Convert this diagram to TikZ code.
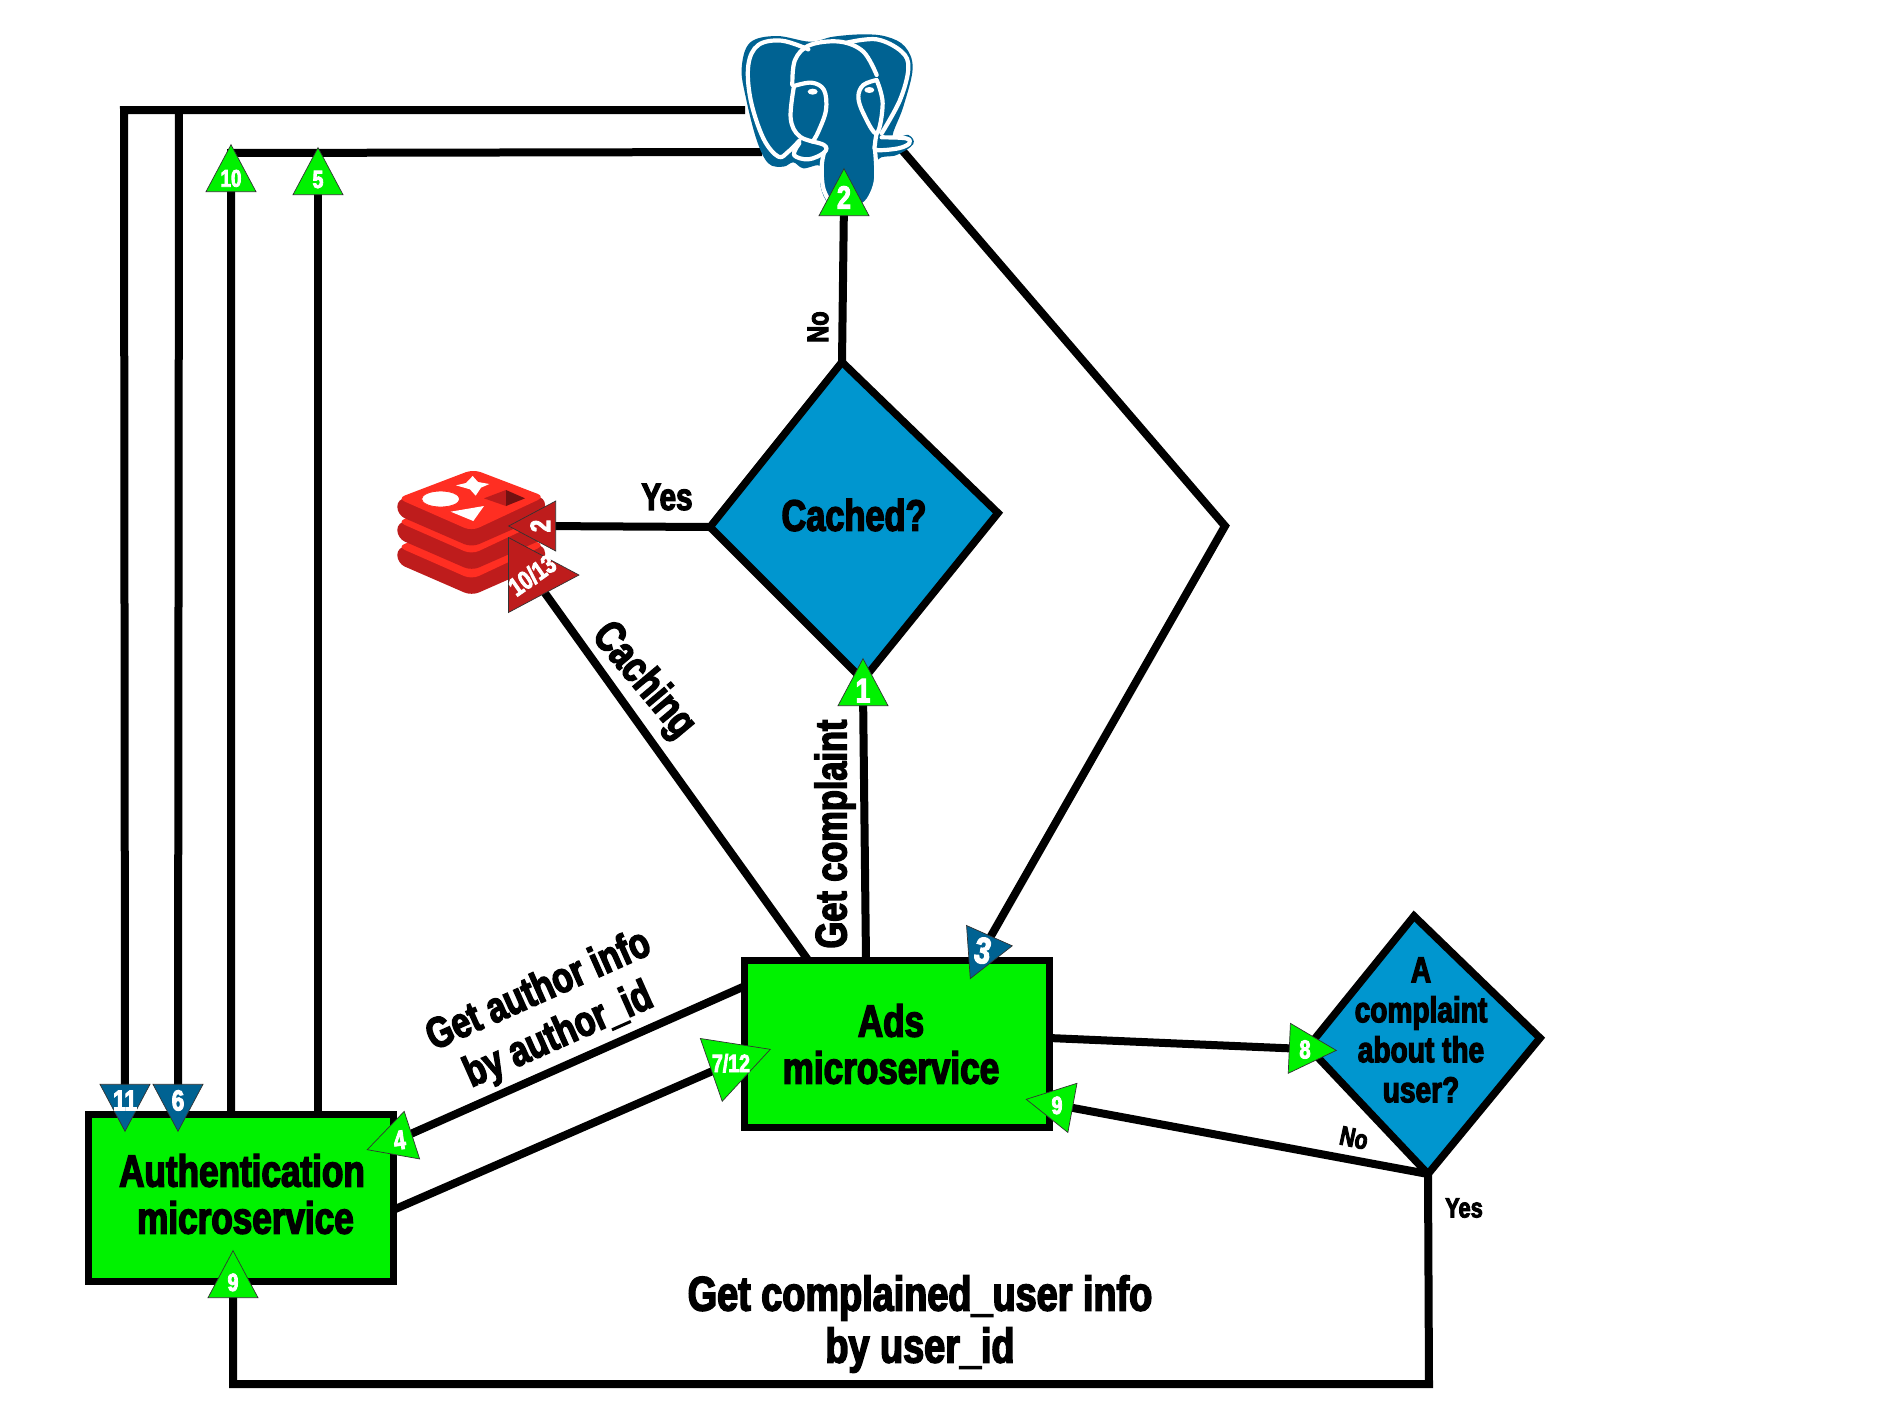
\documentclass[tikz,border=0pt]{standalone}
\usepackage{fontspec}
\usetikzlibrary{shapes.geometric}
\newfontfamily\imp[UprightFont=* Bold,FakeStretch=0.78,FakeBold=3.2]{Liberation Sans}
\definecolor{gbox}{RGB}{0,242,0}
\definecolor{dblue}{RGB}{0,150,207}
\definecolor{mblue}{RGB}{0,98,146}
\definecolor{rdark}{RGB}{190,28,28}
\definecolor{rlight}{RGB}{255,46,34}
\pgfdeclarelayer{background}
\pgfsetlayers{background,main}
\tikzset{
  conn/.style={draw=black,line width=8pt,line join=miter},
  flowbox/.style={draw=black,fill=gbox,line width=7.5pt,rectangle,outer sep=0pt,inner sep=0pt},
  decision/.style={draw=black,fill=dblue,line width=7.5pt,line join=miter},
  lbl/.style={text=black,align=center,inner sep=0pt},
  markshape/.style={draw=black!80,line width=.7pt,line join=miter},
  marktext/.style={inner sep=0pt,outer sep=0pt,text=white},
  elewhite/.style={draw=white,line width=4.2pt,line cap=round,line join=round}
}
% name, x, y (centroid), apex angle, text angle, colour, size, text, scale
\newcommand{\mk}[9]{%
  \path[markshape,fill=#6,shift={(#2,#3)},rotate=#4,scale=#9] (0,-31.3) -- (25,15.7) -- (-25,15.7) -- cycle;
  \node[marktext,rotate=#5,font=\imp\fontsize{#7}{#7}\selectfont] (#1) at (#2,#3)
    {\smash{\makebox[0pt]{\raisebox{-.36em}{#8}}}};}
\newcommand{\tsize}[2]{\imp\fontsize{#1}{#2}\selectfont}
\begin{document}
\begin{tikzpicture}[x=1pt,y=-1pt]
\useasboundingbox (0,0) rectangle (1890,1417);

% PostgreSQL elephant
\begin{scope}[shift={(700,0)},scale=1/3]
\fill[mblue] plot[smooth cycle,tension=.6] coordinates {
 (330,125) (230,108) (150,128) (125,205) (138,295) (170,420) (205,490) (250,500) (280,487) (310,505) (362,498)
 (362,560) (385,610) (430,625) (490,612) (525,560) (532,480) (590,465) (640,432) (625,405) (578,410) (610,320) (638,205) (615,140) (560,110) (490,103) (400,110)};
\draw[elewhite] plot[smooth,tension=.6] coordinates {(325,148) (245,122) (175,135) (145,195) (152,300) (190,415) (235,470) (265,455) (298,422)};
\draw[elewhite] plot[smooth,tension=.6] coordinates {(277,255) (285,180) (330,135) (420,125) (490,155) (530,225)};
\draw[elewhite] plot[smooth,tension=.6] coordinates {(440,128) (530,118) (605,155) (625,205) (600,300) (545,400)};
\draw[elewhite] plot[smooth,tension=.6] coordinates {(282,258) (335,248) (372,270) (378,330) (355,395) (338,425)};
\draw[elewhite] plot[smooth,tension=.6] coordinates {(282,258) (272,355) (300,410) (372,435) (372,458) (325,478) (282,465) (298,430)};
\draw[elewhite] plot[smooth,tension=.6] coordinates {(530,240) (490,255) (475,290) (490,340) (530,400) (548,310) (530,240)};
\draw[elewhite] plot[smooth,tension=.6] coordinates {(530,400) (525,432) (530,450) (595,445) (628,430) (618,415) (545,412)};
\draw[elewhite] plot[smooth,tension=.6] coordinates {(372,458) (365,500) (370,565) (392,610)};
\draw[elewhite] plot[smooth,tension=.6] coordinates {(525,450) (528,540) (505,600) (475,622)};
\fill[white] (338,275) ellipse (15 and 9);
\fill[white] (508,270) ellipse (15 and 9);
\end{scope}

% Redis logo
\begin{scope}[shift={(380,450)},scale=1/3]
\foreach \d in {145,70,0}{
 \fill[rdark,rounded corners=8pt] (52,145+\d) -- (52,195+\d) -- (275,292+\d) -- (495,195+\d) -- (495,140+\d) -- cycle;
 \fill[rlight,rounded corners=8pt] (52,145+\d) -- (280,58+\d) -- (495,140+\d) -- (275,243+\d) -- cycle;
}
\filldraw[fill=white,draw=rlight,line width=.8pt] (182,147) ellipse (57 and 24);
\fill[white] (278,78) -- (294,96) -- (328,102) -- (303,113) -- (287,137) -- (270,118) -- (228,106) -- (258,99) -- cycle;
\fill[white] (212,185) -- (312,168) -- (280,213) -- cycle;
\fill[rdark] (312,145) -- (378,120) -- (378,168) -- cycle;
\fill[rdark!60!black] (378,120) -- (435,145) -- (378,168) -- cycle;
\end{scope}

% Free end points and bends
\coordinate (pgA) at (745,110);
\coordinate (pgB) at (762,152);
\coordinate (pgC) at (902,150);
\coordinate (loopOut) at (124,110);
\coordinate (loopIn) at (179,110);
\coordinate (innerA) at (231,153);
\coordinate (bend) at (1225,526);
\coordinate (yesCorner) at (1429,1384);
\coordinate (authCorner) at (233,1384);
\coordinate (cachEnd) at (808,960);
\coordinate (getEnd) at (866,960);
\coordinate (authOut) at (745,986);
\coordinate (authIn) at (393,1210);
\coordinate (adsOut) at (1049,1038);

% Decisions
\coordinate (cT) at (842,362);
\coordinate (cR) at (998,513);
\coordinate (cB) at (863,680);
\coordinate (cL) at (710,527);
\path[decision] (cT) -- (cR) -- (cB) -- (cL) -- cycle;
\node[lbl,font=\tsize{44}{49}] (cachedT) at (854,515) {Cached?};

\coordinate (dT) at (1414,916);
\coordinate (dR) at (1540,1038);
\coordinate (dB) at (1428,1174);
\coordinate (dL) at (1308,1047);
\path[decision] (dT) -- (dR) -- (dB) -- (dL) -- cycle;
\node[lbl,font=\tsize{36}{40}] (complT) at (1421,1030) {A\\complaint\\about the\\user?};

% Boxes
\node[flowbox,minimum width=305pt,minimum height=167pt] (auth) at (241,1198) {};
\node[lbl,font=\tsize{45}{47}] (authT) at (242,1194) {Authentication\\\hspace{7pt}microservice};
\node[flowbox,minimum width=305pt,minimum height=167pt] (ads) at (897,1044) {};
\node[lbl,font=\tsize{45}{47}] (adsT) at (891,1044) {Ads\\microservice};

% Markers
\mk{mTwoPg}{844}{200}{0}{0}{gbox}{32}{\raisebox{3pt}{2}}{1}
\mk{mTen}{231}{176}{0}{0}{gbox}{24}{\raisebox{-2pt}{10}}{1}
\mk{mFive}{318}{179}{0}{0}{gbox}{25}{5}{1}
\mk{mOne}{863}{690}{0}{0}{gbox}{34}{1}{1}
\mk{mEleven}{125}{1100}{180}{0}{mblue}{29}{11}{1}
\mk{mSix}{178}{1100}{180}{0}{mblue}{29}{6}{1}
\mk{mNineAuth}{233}{1282}{0}{0}{gbox}{25}{9}{1}
\mk{mFour}{397}{1140}{108}{8}{gbox}{27}{\hspace{5pt}4}{1}
\mk{mThree}{983}{950}{156}{-10}{mblue}{37}{3}{1}
\mk{mSeven}{731}{1063}{-70.8}{0}{gbox}{25}{7/12}{1.33}
\mk{mNineAds}{1057}{1105}{79.5}{0}{gbox}{25}{9}{1}
\mk{mEight}{1305}{1049}{-92.5}{0}{gbox}{26}{8}{1}
\mk{mTwoRed}{540}{526}{90}{90}{rdark}{28}{2}{1}
\mk{mTenRed}{532}{575}{-90}{35}{rdark}{26}{10/13}{1.5}

% Connectors
\begin{pgfonlayer}{background}
\fill[white] (0,0) rectangle (1890,1417);
\draw[conn] (pgA) -- (loopOut) -- (mEleven.center);
\draw[conn] (loopIn) -- (mSix.center);
\draw[conn] (auth.north -| mTen.center) -- (mTen.center) -- (innerA) -- (pgB);
\draw[conn] (auth.north -| mFive.center) -- (mFive.center);
\draw[conn] (pgC) -- (bend) -- (mThree.center);
\draw[conn] (cT) -- (mTwoPg.center);
\draw[conn] (cL) -- (mTwoRed.center);
\draw[conn] (mTenRed.center) -- (cachEnd);
\draw[conn] (cB) -- (mOne.center) -- (getEnd);
\draw[conn] (mFour.center) -- (authOut);
\draw[conn] (authIn) -- (mSeven.center);
\draw[conn] (adsOut) -- (mEight.center);
\draw[conn] (dB) -- (mNineAds.center);
\draw[conn] (dB) -- (yesCorner) -- (authCorner) -- (mNineAuth.center);
\end{pgfonlayer}

% Labels
\node[lbl,rotate=90,font=\tsize{30}{32}] (lblNoTop) at (818,327) {No};
\node[lbl,font=\tsize{38}{40}] (lblYesTop) at (667,497) {Yes};
\node[lbl,rotate=90,font=\tsize{44}{46}] (lblGet) at (835,834) {Get complaint};
\node[lbl,rotate=-50,font=\tsize{44}{46}] (lblCach) at (643,681) {Caching};
\node[lbl,rotate=24,font=\tsize{43}{49}] (lblAuthor) at (549,1014) {Get author info\\by author\_id};
\node[lbl,rotate=-12,font=\tsize{27}{29}] (lblNo) at (1354,1138) {No};
\node[lbl,font=\tsize{28}{30}] (lblYes) at (1464,1208) {Yes};
\node[lbl,font=\tsize{48.5}{52}] (lblUser) at (920,1324) {Get complained\_user info\\by user\_id};
\end{tikzpicture}
\end{document}
